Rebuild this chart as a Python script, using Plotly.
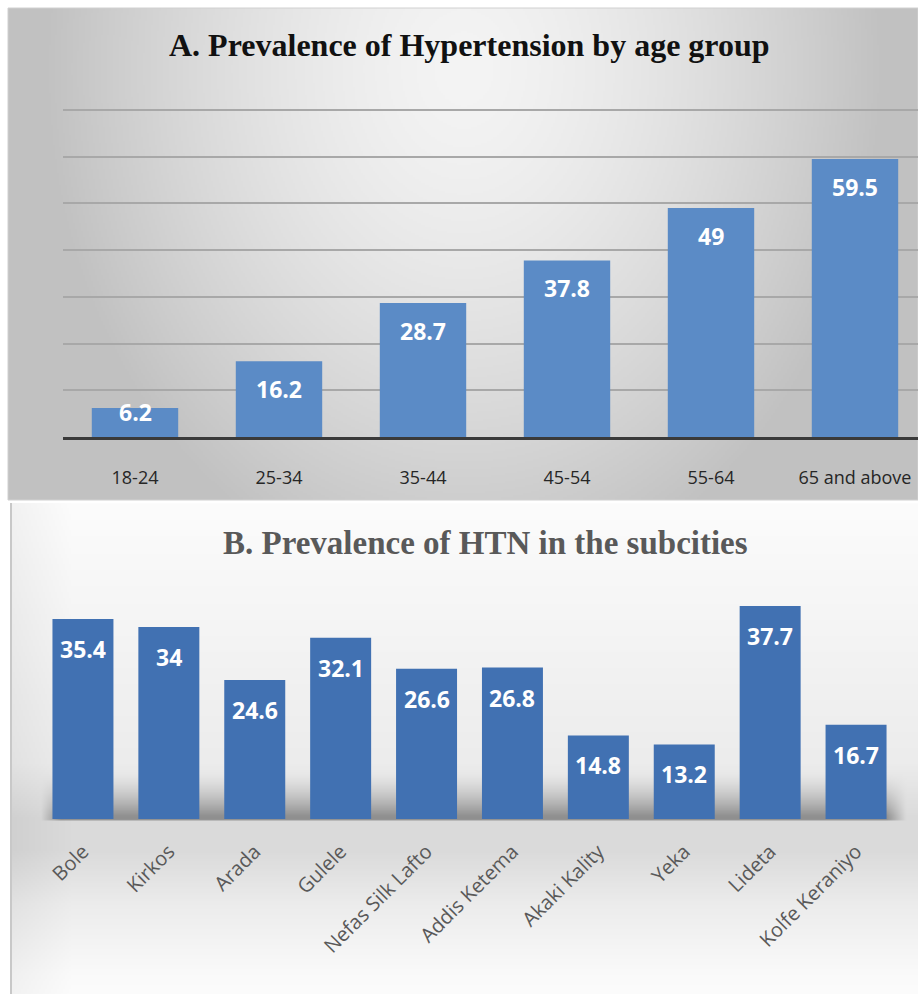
import base64, struct, zlib
import numpy as np
import plotly.graph_objects as go

# ---------------- data ----------------
age_groups = ["18-24", "25-34", "35-44", "45-54", "55-64", "65 and above"]
age_prev = [6.2, 16.2, 28.7, 37.8, 49, 59.5]

subcities = ["Bole", "Kirkos", "Arada", "Gulele", "Nefas Silk Lafto", "Addis Ketema",
             "Akaki Kality", "Yeka", "Lideta", "Kolfe Keraniyo"]
sub_prev = [35.4, 34, 24.6, 32.1, 26.6, 26.8, 14.8, 13.2, 37.7, 16.7]

title_a = "A. Prevalence of Hypertension by age group"
title_b = "B. Prevalence of HTN in the subcities"

# ---------------- geometry (pixels) ----------------
W, H = 918, 994
def fx(px): return px / W
def fy(py): return 1 - py / H

top_plot = dict(x0=63, x1=918, y0=108, y1=437)   # y0 = top, y1 = baseline
bot_plot = dict(x0=40, x1=899, y0=593, y1=819)
ppu_top = (437 - 110) / 70.0
top_range = [0, (top_plot["y1"] - top_plot["y0"]) / ppu_top]
bot_range = [0, 40]
ppu_bot = (bot_plot["y1"] - bot_plot["y0"]) / (bot_range[1] - bot_range[0])


# ---------------- background gradients ----------------
def png_uri(arr):
    arr = np.clip(arr, 0, 255).astype(np.uint8)
    h, w, _ = arr.shape
    raw = b"".join(b"\x00" + arr[i].tobytes() for i in range(h))

    def chunk(t, d):
        c = struct.pack(">I", len(d)) + t + d
        return c + struct.pack(">I", zlib.crc32(t + d) & 0xFFFFFFFF)

    png = (b"\x89PNG\r\n\x1a\n"
           + chunk(b"IHDR", struct.pack(">IIBBBBB", w, h, 8, 2, 0, 0, 0))
           + chunk(b"IDAT", zlib.compress(raw, 9))
           + chunk(b"IEND", b""))
    return "data:image/png;base64," + base64.b64encode(png).decode()


# top panel: radial grey gradient
tw, th = 455, 246
yy, xx = np.mgrid[0:th, 0:tw].astype(float)
xx *= 910 / tw
yy *= 492 / th
dx = (xx - 455) / 520
dy = (yy - 60) / 650
t = np.sqrt(dx ** 2 + dy ** 2)
v = 244 - 70 * t ** 1.5
v = np.clip(v, 193, 246)
top_bg = np.stack([v, v, v], axis=-1)

# bottom panel: vertical light gradient with shadow band under bars
bw, bh = 454, 246
yy, xx = np.mgrid[0:bh, 0:bw].astype(float)
xx *= 908 / bw
yy *= 491 / bh
prof_y = np.array([0, 100, 260, 316, 345, 400, 470, 491])
prof_v = np.array([252, 246, 236, 218, 218, 236, 250, 252])
v = np.interp(yy, prof_y, prof_v)
sy = yy + 503
band = np.clip((sy - 770) / 45, 0, 1) ** 1.6 * (sy < 820)
hx = np.clip((xx + 10 - 40) / 20, 0, 1) * np.clip((905 - (xx + 10)) / 20, 0, 1)
v = v - 75 * band * hx
v = v - 10 * np.clip((60 - xx) / 60, 0, 1)
bot_bg = np.stack([v, v, v], axis=-1)

# ---------------- figure ----------------
fig = go.Figure()

fig.add_trace(go.Bar(
    x=age_groups, y=age_prev, xaxis="x", yaxis="y",
    marker=dict(color="#5b8bc6", line=dict(width=0)),
    width=0.6, hoverinfo="x+y", showlegend=False,
))
fig.add_trace(go.Bar(
    x=subcities, y=sub_prev, xaxis="x2", yaxis="y2",
    marker=dict(color="#4171b2", line=dict(width=0)),
    width=0.71, hoverinfo="x+y", showlegend=False,
))

annotations = []
label_font = dict(family="Open Sans, Lato, sans-serif", size=23, color="white")
for cat, val in zip(age_groups, age_prev):
    ylab = max(val - 28 / ppu_top, 25 / ppu_top)
    annotations.append(dict(x=cat, y=ylab, xref="x", yref="y", text=f"<b>{val:g}</b>",
                            showarrow=False, font=label_font, yanchor="middle"))
for cat, val in zip(subcities, sub_prev):
    ylab = max(val - 30 / ppu_bot, 25 / ppu_bot)
    annotations.append(dict(x=cat, y=ylab, xref="x2", yref="y2", text=f"<b>{val:g}</b>",
                            showarrow=False, font=label_font, yanchor="middle"))

annotations.append(dict(x=fx(469), y=fy(45), xref="paper", yref="paper",
                        text=f"<b>{title_a}</b>", showarrow=False,
                        font=dict(family="Liberation Serif, DejaVu Serif, serif", size=32, color="#111111"),
                        xanchor="center", yanchor="middle"))
annotations.append(dict(x=fx(485), y=fy(543), xref="paper", yref="paper",
                        text=f"<b>{title_b}</b>", showarrow=False,
                        font=dict(family="Liberation Serif, DejaVu Serif, serif", size=33, color="#595959"),
                        xanchor="center", yanchor="middle"))

images = [
    dict(source=png_uri(top_bg), xref="paper", yref="paper", x=fx(8), y=fy(8),
         sizex=910 / W, sizey=492 / H, xanchor="left", yanchor="top",
         sizing="stretch", layer="below"),
    dict(source=png_uri(bot_bg), xref="paper", yref="paper", x=fx(10), y=fy(503),
         sizex=908 / W, sizey=491 / H, xanchor="left", yanchor="top",
         sizing="stretch", layer="below"),
]

shapes = [
    dict(type="rect", xref="paper", yref="paper", x0=fx(8), x1=fx(918), y0=fy(500), y1=fy(8),
         line=dict(color="#d0d0d0", width=1), layer="below"),
    dict(type="line", xref="paper", yref="paper", x0=fx(11), x1=fx(11), y0=fy(994), y1=fy(503),
         line=dict(color="#c8c8c8", width=2), layer="below"),
]

fig.update_layout(
    width=W, height=H,
    margin=dict(l=0, r=0, t=0, b=0),
    paper_bgcolor="white",
    plot_bgcolor="rgba(0,0,0,0)",
    bargap=0.4,
    images=images,
    shapes=shapes,
    annotations=annotations,
    xaxis=dict(domain=[fx(top_plot["x0"]), fx(top_plot["x1"])], anchor="y",
               range=[-0.5, -0.5 + (top_plot["x1"] - top_plot["x0"]) / 144],
               showgrid=False, showline=True, linecolor="#3a3a3a", linewidth=3,
               ticks="", ticklabelstandoff=22,
               tickfont=dict(family="Open Sans, Lato, sans-serif", size=18, color="#262626"),
               fixedrange=True),
    yaxis=dict(domain=[fy(top_plot["y1"]), fy(top_plot["y0"])], anchor="x",
               range=top_range, tickmode="linear", tick0=0, dtick=10,
               showgrid=True, gridcolor="#a8a8a8", gridwidth=2,
               zeroline=False, showticklabels=False, ticks="", fixedrange=True),
    xaxis2=dict(domain=[fx(bot_plot["x0"]), fx(bot_plot["x1"])], anchor="y2",
                range=[-0.5, len(subcities) - 0.5],
                showgrid=False, showline=False, ticks="", tickangle=-45,
                ticklabelstandoff=16,
                tickfont=dict(family="Open Sans, Lato, sans-serif", size=20, color="#595959"),
                fixedrange=True),
    yaxis2=dict(domain=[fy(bot_plot["y1"]), fy(bot_plot["y0"])], anchor="x2",
                range=bot_range, showgrid=False, zeroline=False, showticklabels=False,
                ticks="", fixedrange=True),
)

fig.write_html("out.html")
